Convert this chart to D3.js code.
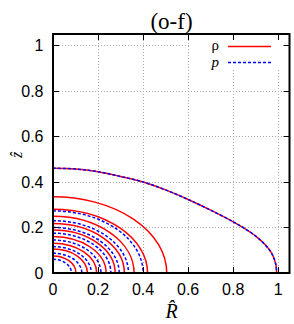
<!DOCTYPE html>
<html>
<head>
<meta charset="utf-8">
<script src="https://cdn.jsdelivr.net/npm/d3@7"></script>
<style>
  body { margin: 0; background: #fff; }
  svg { display: block; }
</style>
</head>
<body>
<div id="chart"></div>
<script>
// tick values
const xTicks = [0, 0.2, 0.4, 0.6, 0.8, 1];
const yTicks = [0, 0.2, 0.4, 0.6, 0.8, 1];
const xTickLabels = ["0", "0.2", "0.4", "0.6", "0.8", "1"];
const yTickLabels = ["0", "0.2", "0.4", "0.6", "0.8", "1"];

// outer surface contour (rho and p coincide)
const surfaceR = [0, 0.1, 0.2, 0.3, 0.4, 0.5, 0.6, 0.7, 0.8, 0.85, 0.9, 0.94, 0.965, 0.98, 0.99, 0.993];
const surfaceZ = [0.46, 0.457, 0.445, 0.424, 0.40, 0.365, 0.323, 0.276, 0.225, 0.196, 0.162, 0.126, 0.096, 0.067, 0.034, 0];

// inner contours, given by their intercepts on the R and z axes
const rhoR = [0.505, 0.42, 0.36, 0.317, 0.276, 0.236, 0.194, 0.153, 0.102];
const rhoZ = [0.335, 0.28, 0.249, 0.217, 0.189, 0.16, 0.131, 0.105, 0.075];
const pR = [0.40, 0.335, 0.294, 0.257, 0.213, 0.17, 0.128, 0.082];
const pZ = [0.273, 0.23, 0.2, 0.175, 0.145, 0.116, 0.087, 0.06];

const W = 294, H = 324;
const mLeft = 53, mTop = 34, mRight = 289.5, mBottom = 273;

const svg = d3.select("#chart").append("svg")
  .attr("width", W).attr("height", H);

const x = d3.scaleLinear().domain([0, 1.05]).range([mLeft, mRight]);
const y = d3.scaleLinear().domain([0, 1.05]).range([mBottom, mTop]);

const red = "#ff0000", blue = "#0000ff";

// clip
svg.append("clipPath").attr("id", "clip")
  .append("rect").attr("x", mLeft).attr("y", mTop)
  .attr("width", mRight - mLeft).attr("height", mBottom - mTop);

// grid
const grid = svg.append("g").attr("stroke", "#a8a8a8").attr("stroke-width", 1)
  .attr("stroke-dasharray", "1,2");
grid.selectAll(".gx").data(xTicks.slice(1)).join("line")
  .attr("x1", d => Math.round(x(d)) + 0.5).attr("x2", d => Math.round(x(d)) + 0.5)
  .attr("y1", mTop).attr("y2", mBottom);
grid.selectAll(".gy").data(yTicks.slice(1)).join("line")
  .attr("y1", d => Math.round(y(d)) + 0.5).attr("y2", d => Math.round(y(d)) + 0.5)
  .attr("x1", mLeft).attr("x2", mRight);

// legend box (opaque)
svg.append("rect").attr("x", 191).attr("y", mTop + 1)
  .attr("width", 95).attr("height", 35).attr("fill", "#fff");

const plot = svg.append("g").attr("clip-path", "url(#clip)");

// inner contours as quarter ellipses
function arcPath(R0, z0) {
  const rx = x(R0) - x(0), ry = y(0) - y(z0);
  return `M${x(0)},${y(z0)} A${rx},${ry} 0 0 1 ${x(R0)},${y(0)}`;
}

plot.selectAll(".rho").data(d3.range(rhoR.length)).join("path")
  .attr("d", i => arcPath(rhoR[i], rhoZ[i]))
  .attr("fill", "none").attr("stroke", red).attr("stroke-width", 1.5);

plot.selectAll(".p").data(d3.range(pR.length)).join("path")
  .attr("d", i => arcPath(pR[i], pZ[i]))
  .attr("fill", "none").attr("stroke", blue).attr("stroke-width", 1.5)
  .attr("stroke-dasharray", "3,2");

const surf = surfaceR.map((r, i) => [r, surfaceZ[i]]);
const line = d3.line().x(d => x(d[0])).y(d => y(d[1])).curve(d3.curveCatmullRom);
plot.append("path").datum(surf).attr("d", line)
  .attr("fill", "none").attr("stroke", red).attr("stroke-width", 1.5);
plot.append("path").datum(surf).attr("d", line)
  .attr("fill", "none").attr("stroke", blue).attr("stroke-width", 1.5)
  .attr("stroke-dasharray", "3,2");

// ticks on all four sides (inward)
const tk = svg.append("g").attr("stroke", "#000").attr("stroke-width", 1);
xTicks.forEach(d => {
  const px = Math.round(x(d)) + 0.5;
  tk.append("line").attr("x1", px).attr("x2", px).attr("y1", mBottom).attr("y2", mBottom - 6);
  tk.append("line").attr("x1", px).attr("x2", px).attr("y1", mTop).attr("y2", mTop + 6);
});
yTicks.forEach(d => {
  const py = Math.round(y(d)) + 0.5;
  tk.append("line").attr("y1", py).attr("y2", py).attr("x1", mLeft).attr("x2", mLeft + 6);
  tk.append("line").attr("y1", py).attr("y2", py).attr("x1", mRight).attr("x2", mRight - 6);
});

// frame
svg.append("rect").attr("x", mLeft).attr("y", mTop)
  .attr("width", mRight - mLeft).attr("height", mBottom - mTop)
  .attr("fill", "none").attr("stroke", "#000").attr("stroke-width", 2);

// tick labels
svg.selectAll(".xl").data(xTicks).join("text")
  .attr("x", d => x(d)).attr("y", 294.5)
  .attr("text-anchor", "middle")
  .attr("font-family", "Liberation Sans, Arial, sans-serif").attr("font-size", 16)
  .text((d, i) => xTickLabels[i]);
svg.selectAll(".yl").data(yTicks).join("text")
  .attr("x", 43.5).attr("y", d => y(d) + 6)
  .attr("text-anchor", "end")
  .attr("font-family", "Liberation Sans, Arial, sans-serif").attr("font-size", 16)
  .text((d, i) => yTickLabels[i]);

// title
svg.append("text").attr("x", 171.5).attr("y", 29)
  .attr("text-anchor", "middle")
  .attr("font-family", "Liberation Serif, Times New Roman, serif").attr("font-size", 23)
  .text("(o-f)");

// axis labels
svg.append("text").attr("x", 171.5).attr("y", 318)
  .attr("text-anchor", "middle")
  .attr("font-family", "Liberation Serif, Times New Roman, serif")
  .attr("font-style", "italic").attr("font-size", 20)
  .text("R\u0302");
svg.append("text")
  .attr("transform", "translate(22,155) rotate(-90)")
  .attr("text-anchor", "middle")
  .attr("font-family", "Liberation Serif, Times New Roman, serif")
  .attr("font-style", "italic").attr("font-size", 16)
  .text("z\u0302");

// legend
const legFont = "Liberation Serif, Times New Roman, serif";
svg.append("text").attr("x", 219).attr("y", 49.5).attr("text-anchor", "end")
  .attr("font-family", legFont).attr("font-size", 15).text("ρ");
svg.append("text").attr("x", 219).attr("y", 67).attr("text-anchor", "end")
  .attr("font-family", legFont).attr("font-style", "italic").attr("font-size", 15).text("p");
svg.append("line").attr("x1", 228).attr("x2", 271).attr("y1", 46.5).attr("y2", 46.5)
  .attr("stroke", red).attr("stroke-width", 1.5);
svg.append("line").attr("x1", 228).attr("x2", 271).attr("y1", 62.5).attr("y2", 62.5)
  .attr("stroke", blue).attr("stroke-width", 1.5).attr("stroke-dasharray", "3,2");
</script>
</body>
</html>
